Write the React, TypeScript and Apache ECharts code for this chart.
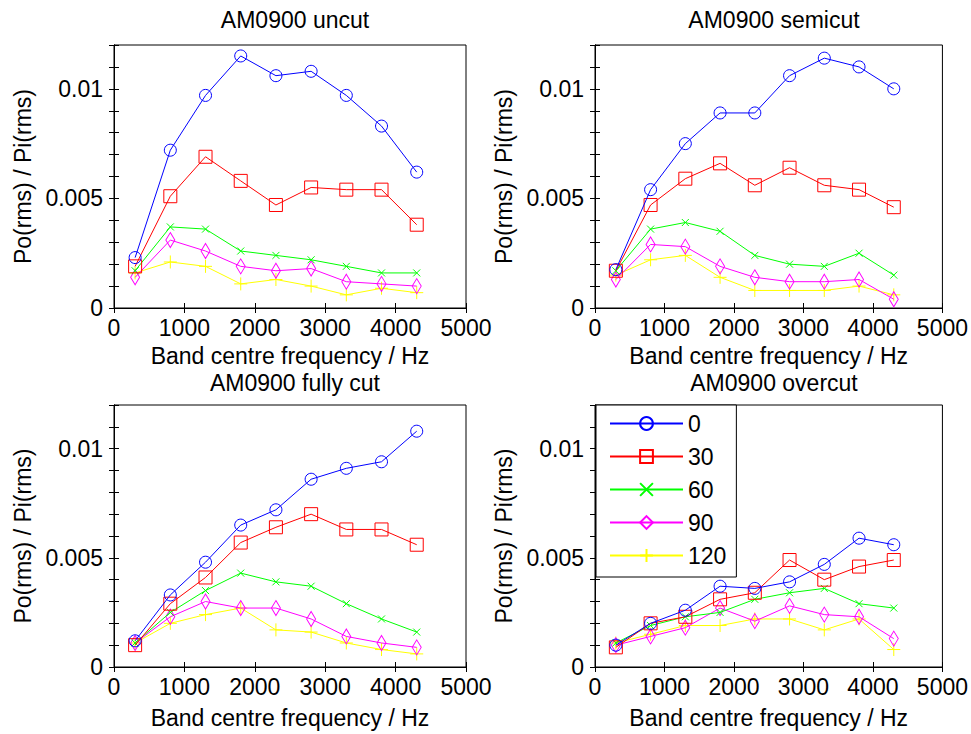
import React, { useEffect, useRef } from "react";
import * as echarts from "echarts";

const freqs = [300, 800, 1300, 1800, 2300, 2800, 3300, 3800, 4300];
const angleNames = ["0", "30", "60", "90", "120"];
const panelTitles = ["AM0900 uncut", "AM0900 semicut", "AM0900 fully cut", "AM0900 overcut"];
const xTitle = "Band centre frequency / Hz";
const yTitle = "Po(rms) / Pi(rms)";

const uncut0 = [0.0023, 0.0072, 0.0097, 0.0115, 0.0106, 0.0108, 0.0097, 0.0083, 0.0062];
const uncut30 = [0.0019, 0.0051, 0.0069, 0.0058, 0.0047, 0.0055, 0.0054, 0.0054, 0.0038];
const uncut60 = [0.0017, 0.0037, 0.0036, 0.0026, 0.0024, 0.0022, 0.0019, 0.0016, 0.0016];
const uncut90 = [0.0014, 0.0031, 0.0026, 0.0019, 0.0017, 0.0018, 0.0012, 0.0011, 0.001];
const uncut120 = [0.0016, 0.0021, 0.0019, 0.0011, 0.0013, 0.001, 0.0006, 0.0009, 0.0007];

const semicut0 = [0.00175, 0.0054, 0.0075, 0.0089, 0.0089, 0.0106, 0.0114, 0.011, 0.01];
const semicut30 = [0.0017, 0.0047, 0.0059, 0.0066, 0.0056, 0.0064, 0.0056, 0.0054, 0.0046];
const semicut60 = [0.0017, 0.0036, 0.0039, 0.0035, 0.0024, 0.002, 0.0019, 0.0025, 0.0015];
const semicut90 = [0.0013, 0.0029, 0.0028, 0.0019, 0.0014, 0.0012, 0.0012, 0.0013, 0.0004];
const semicut120 = [0.0015, 0.0022, 0.0024, 0.0014, 0.0008, 0.0008, 0.0008, 0.001, 0.0006];

const fullycut0 = [0.0012, 0.0033, 0.0048, 0.0065, 0.0072, 0.0086, 0.0091, 0.0094, 0.0108];
const fullycut30 = [0.001, 0.0029, 0.0041, 0.0057, 0.0064, 0.007, 0.0063, 0.0063, 0.0056];
const fullycut60 = [0.0011, 0.0025, 0.0035, 0.0043, 0.0039, 0.0037, 0.0029, 0.0022, 0.0016];
const fullycut90 = [0.0011, 0.0023, 0.003, 0.0027, 0.0027, 0.0022, 0.0014, 0.0011, 0.0009];
const fullycut120 = [0.0011, 0.002, 0.0024, 0.0027, 0.0017, 0.0016, 0.0011, 0.0008, 0.0006];

const overcut0 = [0.001, 0.002, 0.0026, 0.0037, 0.0036, 0.0039, 0.0047, 0.0059, 0.0056];
const overcut30 = [0.0009, 0.002, 0.0023, 0.0031, 0.0034, 0.0049, 0.004, 0.0046, 0.0049];
const overcut60 = [0.0011, 0.0019, 0.0023, 0.0025, 0.0031, 0.0034, 0.0036, 0.0029, 0.0027];
const overcut90 = [0.001, 0.0014, 0.0018, 0.0027, 0.0021, 0.0028, 0.0024, 0.0023, 0.0013];
const overcut120 = [0.0011, 0.0015, 0.0019, 0.0019, 0.0022, 0.0022, 0.0017, 0.0022, 0.0008];

const panels = [
  [uncut0, uncut30, uncut60, uncut90, uncut120],
  [semicut0, semicut30, semicut60, semicut90, semicut120],
  [fullycut0, fullycut30, fullycut60, fullycut90, fullycut120],
  [overcut0, overcut30, overcut60, overcut90, overcut120],
];

const colors = ["#0000ff", "#ff0000", "#00ff00", "#ff00ff", "#ffff00"];
const symbols = [
  "circle",
  "rect",
  "path://M0 0L10 10M0 10L10 0",
  "diamond",
  "path://M5 0L5 10M0 5L10 5",
];
const symbolSizes: any[] = [12, 13, 7, [9, 15], 13];

const FONT = "'Liberation Sans', Arial, sans-serif";
const FS = 23;

const gridBoxes = [
  { left: 114, top: 45, width: 352, height: 263 },
  { left: 595, top: 45, width: 348, height: 263 },
  { left: 114, top: 405, width: 352, height: 262 },
  { left: 595, top: 405, width: 348, height: 262 },
];

export default function App() {
  const ref = useRef<HTMLDivElement>(null);
  useEffect(() => {
    if (!ref.current) return;
    const chart = echarts.init(ref.current, null, { renderer: "svg" });
    const tick = { show: true, inside: true, length: 5, lineStyle: { color: "#000", width: 1 } };
    const grid: any[] = [];
    const xAxis: any[] = [];
    const yAxis: any[] = [];
    const series: any[] = [];
    const title: any[] = [];
    gridBoxes.forEach((g, i) => {
      const bottomRow = i >= 2;
      grid.push({ ...g, show: true, borderColor: "#000", borderWidth: 1, backgroundColor: "#fff" });
      title.push({
        text: panelTitles[i],
        left: g.left + g.width / 2,
        top: g.top - (bottomRow ? 39 : 42),
        textAlign: "center",
        textStyle: { fontFamily: FONT, fontSize: FS, fontWeight: "normal", color: "#000" },
      });
      xAxis.push({
        gridIndex: i,
        type: "value",
        min: 0,
        max: 5000,
        interval: 1000,
        position: "bottom",
        name: xTitle,
        nameLocation: "middle",
        nameGap: bottomRow ? 39 : 36,
        nameTextStyle: { fontFamily: FONT, fontSize: FS, color: "#000" },
        axisLine: { show: true, lineStyle: { color: "#000" } },
        axisTick: tick,
        axisLabel: {
          fontFamily: FONT,
          fontSize: FS,
          color: "#000",
          margin: 8,
          formatter: (v: number) => String(Math.round(v)),
        },
        splitLine: { show: false },
      });
      xAxis.push({
        gridIndex: i,
        type: "value",
        min: 0,
        max: 5000,
        interval: 1000,
        position: "top",
        axisLine: { show: true, lineStyle: { color: "#000" } },
        axisTick: tick,
        axisLabel: { show: false },
        splitLine: { show: false },
      });
      yAxis.push({
        gridIndex: i,
        type: "value",
        min: 0,
        max: 0.012,
        interval: 0.001,
        position: "left",
        name: yTitle,
        nameLocation: "middle",
        nameGap: 80,
        nameRotate: 90,
        nameTextStyle: { fontFamily: FONT, fontSize: FS, color: "#000" },
        axisLine: { show: true, lineStyle: { color: "#000" } },
        axisTick: tick,
        axisLabel: {
          fontFamily: FONT,
          fontSize: FS,
          color: "#000",
          margin: 11,
          formatter: (v: number) => {
            const k = Math.round(v * 1000);
            if (k === 0) return "0";
            if (k === 5) return "0.005";
            if (k === 10) return "0.01";
            return "";
          },
        },
        splitLine: { show: false },
      });
      yAxis.push({
        gridIndex: i,
        type: "value",
        min: 0,
        max: 0.012,
        interval: 0.001,
        position: "right",
        axisLine: { show: true, lineStyle: { color: "#000" } },
        axisTick: tick,
        axisLabel: { show: false },
        splitLine: { show: false },
      });
      panels[i].forEach((vals, s) => {
        series.push({
          type: "line",
          name: angleNames[s],
          xAxisIndex: i * 2,
          yAxisIndex: i * 2,
          data: freqs.map((f, k) => [f, vals[k]]),
          symbol: symbols[s],
          symbolSize: symbolSizes[s],
          showAllSymbol: true,
          lineStyle: { color: colors[s], width: 1 },
          itemStyle: { color: "rgba(0,0,0,0)", borderColor: colors[s], borderWidth: 1 },
          emphasis: { disabled: true },
          z: 10 - s,
        });
      });
    });
    chart.setOption({
      animation: false,
      backgroundColor: "#fff",
      title,
      grid,
      xAxis,
      yAxis,
      series,
      legend: {
        data: angleNames,
        orient: "vertical",
        left: 596,
        top: 405,
        width: 140,
        backgroundColor: "#fff",
        borderColor: "#000",
        borderWidth: 1,
        borderRadius: 0,
        padding: [7, 10, 10, 13],
        itemWidth: 73,
        itemHeight: 16,
        itemGap: 10,
        selectedMode: false,
        textStyle: { fontFamily: FONT, fontSize: FS, color: "#000" },
        z: 20,
      },
    });
    return () => chart.dispose();
  }, []);
  return (
    <div
      ref={ref}
      style={{ position: "absolute", left: 0, top: 0, width: 971, height: 734 }}
    />
  );
}
